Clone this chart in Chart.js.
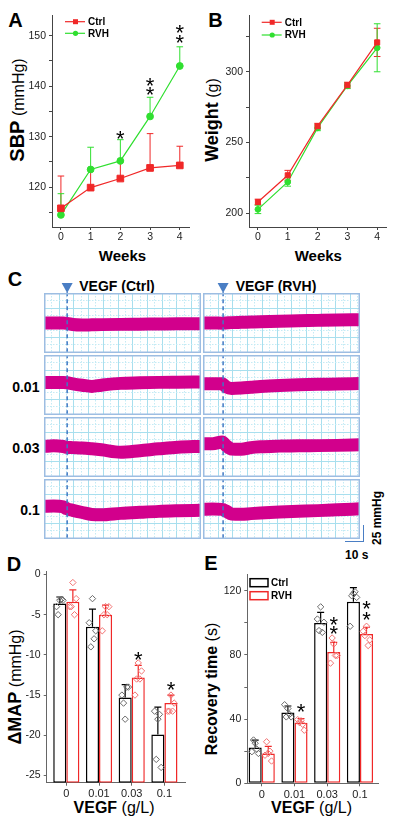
<!DOCTYPE html>
<html>
<head>
<meta charset="utf-8">
<script src="https://cdn.jsdelivr.net/npm/chart.js@4.4.1/dist/chart.umd.min.js"></script>
<style>
body { margin: 0; background: #fff; width: 397px; height: 832px; position: relative; overflow: hidden; font-family: Arial, "Liberation Sans", sans-serif; color: #000; }
canvas { position: absolute; }
.t { position: absolute; white-space: nowrap; line-height: 1; transform: translate(-50%, -50%); }
.r { transform: translate(-50%, -50%) rotate(-90deg); }
.b { font-weight: bold; }
.scalebar { position: absolute; left: 345px; top: 525px; width: 18px; height: 16px; border-right: 1.5px solid #4a7ec4; border-bottom: 1.5px solid #4a7ec4; }
</style>
</head>
<body>
<div class="t b" style="left:15.5px;top:20px;font-size:20px">A</div>
<div class="t b" style="left:215.5px;top:20px;font-size:20px">B</div>
<div class="t b" style="left:15px;top:279px;font-size:20px">C</div>
<div class="t b" style="left:14px;top:563.5px;font-size:20px">D</div>
<div class="t b" style="left:211px;top:563px;font-size:20px">E</div>

<div class="t r" style="left:17px;top:110px"><b style="font-size:20px">SBP</b> <span style="font-size:16px">(mmHg)</span></div>
<div class="t r" style="left:212px;top:120px"><b style="font-size:18px">Weight</b> <span style="font-size:16px">(g)</span></div>
<div class="t b" style="left:122.5px;top:255px;font-size:15px">Weeks</div>
<div class="t b" style="left:318.3px;top:255px;font-size:15px">Weeks</div>

<div class="t b" style="left:117px;top:286px;font-size:14px">VEGF (Ctrl)</div>
<div class="t b" style="left:276px;top:286px;font-size:14px">VEGF (RVH)</div>
<div class="t b" style="left:25.8px;top:386.7px;font-size:14px">0.01</div>
<div class="t b" style="left:25.8px;top:448.3px;font-size:14px">0.03</div>
<div class="t b" style="left:30px;top:510px;font-size:14px">0.1</div>
<div class="scalebar"></div>
<div class="t r b" style="left:377px;top:517.5px;font-size:12px">25 mmHg</div>
<div class="t b" style="left:356.7px;top:555px;font-size:12px">10 s</div>

<div class="t r" style="left:15px;top:687px"><b style="font-size:18px">ΔMAP</b> <span style="font-size:16px">(mmHg)</span></div>
<div class="t r" style="left:212px;top:689px"><b style="font-size:16px">Recovery time</b> <span style="font-size:16px">(s)</span></div>
<div class="t" style="left:114px;top:808px"><b style="font-size:16px">VEGF</b> <span style="font-size:16px">(g/L)</span></div>
<div class="t" style="left:311.5px;top:808px"><b style="font-size:16px">VEGF</b> <span style="font-size:16px">(g/L)</span></div>

<canvas id="sbp" width="175" height="240" style="left:20px;top:5px"></canvas>
<canvas id="weight" width="177" height="240" style="left:215px;top:5px"></canvas>

<canvas id="tc0" width="157" height="72" style="left:44px;top:281px"></canvas>
<canvas id="tr0" width="157" height="72" style="left:203px;top:281px"></canvas>
<canvas id="tc1" width="157" height="60" style="left:44px;top:355px"></canvas>
<canvas id="tr1" width="157" height="60" style="left:203px;top:355px"></canvas>
<canvas id="tc2" width="157" height="60" style="left:44px;top:417px"></canvas>
<canvas id="tr2" width="157" height="60" style="left:203px;top:417px"></canvas>
<canvas id="tc3" width="157" height="60" style="left:44px;top:479px"></canvas>
<canvas id="tr3" width="157" height="60" style="left:203px;top:479px"></canvas>

<canvas id="dmap" width="178" height="241" style="left:12px;top:562px"></canvas>
<canvas id="recovery" width="172" height="240" style="left:212px;top:565px"></canvas>

<script>
const weeks = [0, 1, 2, 3, 4]
const sbpTicks = [115, 120, 125, 130, 135, 140, 145, 150]
const sbpCtrl = [115.8, 119.9, 121.7, 123.8, 124.3]
const sbpCtrlErr = [6.4, 3.7, 3.5, 6.8, 3.8]
const sbpRvh = [114.5, 123.5, 125.2, 134.0, 144.0]
const sbpRvhErr = [4.2, 4.4, 4.2, 3.8, 3.8]
const sbpStarX = [2, 3, 3, 4, 4]
const sbpStarY = [130.6, 139.3, 141.1, 149.7, 151.7]

const wtTicks = [200, 225, 250, 275, 300, 325]
const wtCtrl = [207.8, 226.7, 261.5, 290.6, 320.8]
const wtCtrlErr = [2, 3.5, 2, 2, 10]
const wtRvh = [202.6, 222.0, 260.3, 290.1, 317.0]
const wtRvhErr = [3, 3, 2, 2, 17]

// pressure traces (mmHg, relative), sampled at these seconds
const traceSec = [0, 5, 10, 12, 15, 20, 25, 30, 40, 50, 60, 70, 82]
const ctrlVegf0 = [48, 48, 48, 47.5, 45.6, 44.8, 45.1, 45.4, 45.8, 46.1, 46.4, 46.7, 47.0]
const rvhVegf0 = [48, 48, 47.7, 48, 48.6, 49.1, 49.6, 50.1, 50.9, 51.5, 52.2, 52.8, 53.1]
const ctrlVegf001 = [52, 52, 52, 51.5, 49.9, 47.7, 45.8, 47.7, 50.6, 51.5, 52.2, 52.5, 52.8]
const rvhVegf001 = [50.2, 50.2, 50.2, 45, 42.6, 43.2, 44.4, 45.6, 47.2, 48.3, 49.1, 49.6, 50.4]
const ctrlVegf003 = [49, 49.9, 48.8, 47.4, 47, 46.4, 45.1, 43.5, 39.7, 42.1, 45.1, 47.7, 49]
const rvhVegf003 = [53.3, 53.3, 56, 50.4, 44.8, 44.3, 47, 48.3, 49.4, 50.1, 50.2, 50.6, 51.5]
const ctrlVegf01 = [52.3, 52.8, 51.5, 48.3, 45.9, 42.4, 39.2, 38.7, 41, 42.7, 44.2, 45.1, 45.9]
const rvhVegf01 = [47.5, 48, 47.4, 44.8, 40, 39.5, 40.6, 41.6, 43.2, 44.3, 45.4, 46.7, 48.3]
const ctrlInjectSec = 12.1
const rvhInjectSec = 10.5

const vegfLabels = ['0', '0.01', '0.03', '0.1']
const mapTicks = [-25, -20, -15, -10, -5, 0]
const mapCtrl = [-3.6, -6.5, -15.3, -19.9]
const mapCtrlErr = [0.8, 2.2, 1.6, 3.4]
const mapRvh = [-3.4, -5.0, -12.8, -16.0]
const mapRvhErr = [1.5, 1.2, 1.5, 1.0]
const mapCtrlPts = [[-4.0, -5.0, -3.2, -3.1, -3.2], [-6.0, -9.0, -3.0, -8.0, -7.0], [-15.0, -16.0, -18.0, -14.0, -14.0], [-17.0, -23.0, -18.0, -17.4, -24.0]]
const mapRvhPts = [[-4.0, -4.0, -1.0, -5.0, -3.0], [-7.0, -5.0, -4.0, -5.0, -4.0], [-15.0, -13.0, -11.0, -13.0, -12.0], [-17.0, -17.0, -15.0, -17.0, -16.0]]
const mapStarX = [2.2, 3.2]
const mapStarY = [-10.0, -13.7]

const recTicks = [0, 20, 40, 60, 80, 100, 120]
const recCtrl = [22.3, 44.1, 99.9, 113.2]
const recCtrlErr = [4.6, 4.1, 6.7, 8.8]
const recRvh = [18.6, 37.7, 81.9, 93.1]
const recRvhErr = [4.4, 2.6, 6.0, 4.2]
const recCtrlPts = [[19.7, 27, 25, 21.3, 18.6], [49, 41.4, 46.6, 43, 41.4], [102.4, 95.2, 110, 94.1, 100.4], [97.9, 116.9, 118.4, 119.4, 115.9]]
const recRvhPts = [[17.5, 25.9, 18.6, 20, 13.9], [39.7, 37.9, 39, 36.8, 33.1], [74.9, 90.6, 86.9, 79.7, 79.7], [94.8, 92.1, 97.9, 85.9, 89.4]]
const recStarX = [1.2, 2.2, 2.2, 3.2, 3.2]
const recStarY = [47.6, 96.2, 102.4, 105.5, 112.1]

const ptJitter = [-0.1, -0.05, 0, 0.05, 0.1]

const RED = '#f02828'
const GREEN = '#30df30'
const FONT = '"Liberation Sans", Arial, sans-serif'

Chart.defaults.font.family = FONT
Chart.defaults.animation = false
Chart.defaults.responsive = false
Chart.defaults.events = []
Chart.defaults.plugins.legend.display = false
Chart.defaults.plugins.tooltip.enabled = false

const xy = (xs, ys) => ys.map((v, i) => ({ x: xs[i], y: v }))
const fixTicks = vals => s => { s.ticks = vals.map(v => ({ value: v })) }

const errorBars = {
    id: 'errorBars',
    beforeDatasetsDraw(chart) {
        const ctx = chart.ctx
        const ys = chart.scales.y
        chart.data.datasets.forEach((ds, i) => {
            if (!ds.err) return
            const meta = chart.getDatasetMeta(i)
            ctx.save()
            ctx.strokeStyle = ds.errColor || ds.borderColor
            ctx.lineWidth = ds.errWidth || 1
            meta.data.forEach((el, j) => {
                const v = ds.data[j].y
                const x = el.x
                const top = ys.getPixelForValue(v + ds.err[j])
                const bot = ds.errBoth ? ys.getPixelForValue(v - ds.err[j]) : ys.getPixelForValue(v)
                const cap = ds.errCap || 3
                ctx.beginPath()
                ctx.moveTo(x, bot); ctx.lineTo(x, top)
                ctx.moveTo(x - cap, top); ctx.lineTo(x + cap, top)
                if (ds.errBoth) { ctx.moveTo(x - cap, bot); ctx.lineTo(x + cap, bot) }
                ctx.stroke()
            })
            ctx.restore()
        })
    }
}

function starsPlugin(xs, ys) {
    return {
        id: 'stars',
        afterDatasetsDraw(chart) {
            const ctx = chart.ctx
            ctx.save()
            ctx.fillStyle = '#000'
            ctx.font = '22px ' + FONT
            ctx.textAlign = 'center'
            ctx.textBaseline = 'alphabetic'
            xs.forEach((xv, k) => {
                ctx.fillText('*', chart.scales.x.getPixelForValue(xv), chart.scales.y.getPixelForValue(ys[k]) + 12.5)
            })
            ctx.restore()
        }
    }
}

function lineLegend(x0, y0, dy) {
    return {
        id: 'lineLegend',
        afterDraw(chart) {
            const ctx = chart.ctx
            chart.data.datasets.forEach((ds, i) => {
                const y = y0 + i * dy
                ctx.save()
                ctx.strokeStyle = ds.borderColor
                ctx.fillStyle = ds.borderColor
                ctx.lineWidth = 1.2
                ctx.beginPath(); ctx.moveTo(x0, y); ctx.lineTo(x0 + 20, y); ctx.stroke()
                if (ds.pointStyle === 'rect') {
                    ctx.fillRect(x0 + 8, y - 2.5, 5, 5)
                } else {
                    ctx.beginPath(); ctx.arc(x0 + 10.5, y, 2.6, 0, 2 * Math.PI); ctx.fill()
                }
                ctx.fillStyle = '#000'
                ctx.font = 'bold 10px ' + FONT
                ctx.textBaseline = 'middle'
                ctx.fillText(ds.label, x0 + 23, y + 0.5)
                ctx.restore()
            })
        }
    }
}

function boxLegend(x0, y0, dy) {
    return {
        id: 'boxLegend',
        afterDraw(chart) {
            const ctx = chart.ctx
            chart.data.datasets.filter(ds => !ds.type).forEach((ds, i) => {
                const y = y0 + i * dy
                ctx.save()
                ctx.strokeStyle = ds.borderColor
                ctx.lineWidth = 1.5
                ctx.strokeRect(x0, y - 4, 18, 8)
                ctx.fillStyle = '#000'
                ctx.font = 'bold 10px ' + FONT
                ctx.textBaseline = 'middle'
                ctx.fillText(ds.label, x0 + 21, y + 0.5)
                ctx.restore()
            })
        }
    }
}

function axisStyle(extra) {
    return Object.assign({
        grid: { drawOnChartArea: false, tickLength: 3, color: '#444', offset: false },
        border: { color: '#444', width: 1 }
    }, extra)
}

function lineChart(id, ctrl, ctrlErr, rvh, rvhErr, both, yMin, yMax, yTicks, labelStep, yW, padRight, plugins, radii) {
    new Chart(document.getElementById(id), {
        type: 'line',
        data: {
            datasets: [{
                label: 'Ctrl',
                data: xy(weeks, ctrl),
                borderColor: RED,
                backgroundColor: RED,
                borderWidth: 1.2,
                pointStyle: 'rect',
                pointRadius: radii[0],
                pointBorderWidth: 1,
                err: ctrlErr, errBoth: both, errCap: 3.3
            }, {
                label: 'RVH',
                data: xy(weeks, rvh),
                borderColor: GREEN,
                backgroundColor: GREEN,
                borderWidth: 1.2,
                pointStyle: 'circle',
                pointRadius: radii[1],
                pointBorderWidth: 1,
                err: rvhErr, errBoth: both, errCap: 3.3
            }]
        },
        options: {
            layout: { padding: { top: 10, right: padRight, left: 0, bottom: 0 } },
            scales: {
                x: axisStyle({
                    type: 'linear', min: -0.3, max: 4.32,
                    ticks: { color: '#222', font: { size: 10.5 }, padding: 1, autoSkip: false, maxRotation: 0 },
                    afterBuildTicks: fixTicks(weeks),
                    afterFit: s => { s.height = 18 }
                }),
                y: axisStyle({
                    min: yMin, max: yMax,
                    ticks: { color: '#222', font: { size: 10.5 }, padding: 3, autoSkip: false,
                        callback: v => (Math.round(v) % labelStep === 0 ? v : '') },
                    afterBuildTicks: fixTicks(yTicks),
                    afterFit: s => { s.width = yW }
                })
            }
        },
        plugins: [errorBars].concat(plugins)
    })
}

lineChart('sbp', sbpCtrl, sbpCtrlErr, sbpRvh, sbpRvhErr, false, 112.1, 154.1, sbpTicks, 10, 32, 4,
    [starsPlugin(sbpStarX, sbpStarY), lineLegend(45, 16.7, 11.6)], [4.7, 3.4])
lineChart('weight', wtCtrl, wtCtrlErr, wtRvh, wtRvhErr, true, 190.1, 340.2, wtTicks, 50, 34, 5.3,
    [lineLegend(46.7, 17.3, 12.7)], [3.6, 2.9])

// trace panels
function tracePlugin(injSec, arrow) {
    return {
        id: 'tracePanel',
        beforeDatasetsDraw(chart) {
            const { ctx, chartArea: { left, right, top, bottom } } = chart
            const step = 7.35
            ctx.save()
            ctx.lineWidth = 1
            let k = 1
            for (let x = left + step; x < right - 2; x += step, k++) {
                const px = Math.round(x) + 0.5
                ctx.strokeStyle = k % 2 ? '#c4ebf5' : '#a8dfee'
                ctx.setLineDash(k % 2 ? [1.5, 1.5] : [])
                ctx.beginPath(); ctx.moveTo(px, top); ctx.lineTo(px, bottom); ctx.stroke()
            }
            k = 1
            for (let y = top + step; y < bottom - 2; y += step, k++) {
                const py = Math.round(y) + 0.5
                ctx.strokeStyle = k % 2 ? '#c4ebf5' : '#a8dfee'
                ctx.setLineDash(k % 2 ? [1.5, 1.5] : [])
                ctx.beginPath(); ctx.moveTo(left, py); ctx.lineTo(right, py); ctx.stroke()
            }
            ctx.restore()
        },
        afterDraw(chart) {
            const { ctx, chartArea: { left, right, top, bottom } } = chart
            ctx.save()
            ctx.strokeStyle = '#9dbde2'
            ctx.lineWidth = 1.5
            ctx.strokeRect(left + 0.75, top + 0.75, right - left - 1.5, bottom - top - 1.5)
            if (arrow) {
                const x = chart.scales.x.getPixelForValue(injSec)
                ctx.fillStyle = '#4a7ec4'
                ctx.beginPath()
                ctx.moveTo(x - 5.5, top - 10); ctx.lineTo(x + 5.5, top - 10); ctx.lineTo(x, top); ctx.closePath()
                ctx.fill()
            }
            ctx.restore()
        }
    }
}

function tracePanel(id, pressures, injSec, arrow) {
    new Chart(document.getElementById(id), {
        type: 'line',
        data: {
            datasets: [{
                data: xy(traceSec, pressures),
                borderColor: '#d2008c',
                borderWidth: 13,
                pointRadius: 0,
                cubicInterpolationMode: 'monotone',
                borderCapStyle: 'butt',
                order: 1
            }, {
                data: [{ x: injSec, y: -10 }, { x: injSec, y: 106 }],
                borderColor: '#3f78c4',
                borderWidth: 1.5,
                borderDash: [4, 3],
                pointRadius: 0,
                clip: false,
                order: 0
            }]
        },
        options: {
            layout: { padding: { top: arrow ? 12 : 0, left: 0, right: 0, bottom: 0 } },
            scales: {
                x: { type: 'linear', min: 0, max: 82, display: false },
                y: { min: 0, max: 96, display: false }
            }
        },
        plugins: [tracePlugin(injSec, arrow)]
    })
}

tracePanel('tc0', ctrlVegf0, ctrlInjectSec, true)
tracePanel('tr0', rvhVegf0, rvhInjectSec, true)
tracePanel('tc1', ctrlVegf001, ctrlInjectSec, false)
tracePanel('tr1', rvhVegf001, rvhInjectSec, false)
tracePanel('tc2', ctrlVegf003, ctrlInjectSec, false)
tracePanel('tr2', rvhVegf003, rvhInjectSec, false)
tracePanel('tc3', ctrlVegf01, ctrlInjectSec, false)
tracePanel('tr3', rvhVegf01, rvhInjectSec, false)

// bar panels
function ptsData(groups, shift) {
    var out = []
    groups.forEach((vals, g) => {
        vals.forEach((v, k) => out.push({ x: g + shift + ptJitter[k], y: v }))
    })
    return out
}

function barChart(id, cfg) {
    const idx = vegfLabels.map((l, i) => i)
    new Chart(document.getElementById(id), {
        type: 'bar',
        data: {
            datasets: [{
                label: 'Ctrl',
                data: xy(idx, cfg.ctrl),
                backgroundColor: '#fff',
                borderColor: '#000',
                borderWidth: 1.5,
                borderSkipped: false,
                base: cfg.yMin,
                categoryPercentage: 0.8,
                barPercentage: 1,
                err: cfg.ctrlErr, errCap: 3.5, errWidth: 1.2,
                order: 1
            }, {
                label: 'RVH',
                data: xy(idx, cfg.rvh),
                backgroundColor: '#fff',
                borderColor: RED,
                borderWidth: 1.5,
                borderSkipped: false,
                base: cfg.yMin,
                categoryPercentage: 0.8,
                barPercentage: 1,
                err: cfg.rvhErr, errCap: 3.5, errWidth: 1.2,
                order: 1
            }, {
                type: 'scatter',
                data: ptsData(cfg.ctrlPts, -0.2),
                pointStyle: 'rectRot',
                pointRadius: 3.2,
                borderColor: '#6a6a6a',
                backgroundColor: 'rgba(0,0,0,0)',
                borderWidth: 1,
                order: 0
            }, {
                type: 'scatter',
                data: ptsData(cfg.rvhPts, 0.2),
                pointStyle: 'rectRot',
                pointRadius: 3.2,
                borderColor: '#f27272',
                backgroundColor: 'rgba(0,0,0,0)',
                borderWidth: 1,
                order: 0
            }]
        },
        options: {
            layout: { padding: { top: cfg.padTop, right: cfg.padRight, left: 0, bottom: 0 } },
            scales: {
                x: axisStyle({
                    type: 'linear', min: cfg.xMin, max: cfg.xMax, offset: false,
                    grid: { drawOnChartArea: false, tickLength: 3, color: '#666', offset: false },
                    border: { color: '#666', width: 1 },
                    ticks: { color: '#222', font: { size: 11 }, padding: 2, autoSkip: false, maxRotation: 0,
                        callback: v => vegfLabels[v] },
                    afterBuildTicks: fixTicks(idx),
                    afterFit: s => { s.height = cfg.xH }
                }),
                y: axisStyle({
                    min: cfg.yMin, max: cfg.yMax,
                    grid: { drawOnChartArea: false, tickLength: 3, color: '#666' },
                    border: { color: '#666', width: 1 },
                    ticks: { color: '#222', font: { size: 10.5 }, padding: 3, autoSkip: false,
                        callback: v => (Math.round(v) % cfg.labelStep === 0 ? v : '') },
                    afterBuildTicks: fixTicks(cfg.ticks),
                    afterFit: s => { s.width = cfg.yW }
                })
            }
        },
        plugins: [errorBars, starsPlugin(cfg.starX, cfg.starY)].concat(cfg.plugins || [])
    })
}

barChart('dmap', {
    ctrl: mapCtrl, ctrlErr: mapCtrlErr, rvh: mapRvh, rvhErr: mapRvhErr,
    ctrlPts: mapCtrlPts, rvhPts: mapRvhPts, starX: mapStarX, starY: mapStarY,
    yMin: -25.9, yMax: 0.4, ticks: mapTicks, labelStep: 5,
    xMin: -0.6, xMax: 3.63, yW: 34.7, xH: 20.3, padTop: 8, padRight: 3.3
})

barChart('recovery', {
    ctrl: recCtrl, ctrlErr: recCtrlErr, rvh: recRvh, rvhErr: recRvhErr,
    ctrlPts: recCtrlPts, rvhPts: recRvhPts, starX: recStarX, starY: recStarY,
    yMin: 0, yMax: 130.3, ticks: recTicks, labelStep: 40,
    xMin: -0.44, xMax: 3.56, yW: 35.3, xH: 21.7, padTop: 8.3, padRight: 5.7,
    plugins: [boxLegend(38, 17.7, 13)]
})
</script>
</body>
</html>
